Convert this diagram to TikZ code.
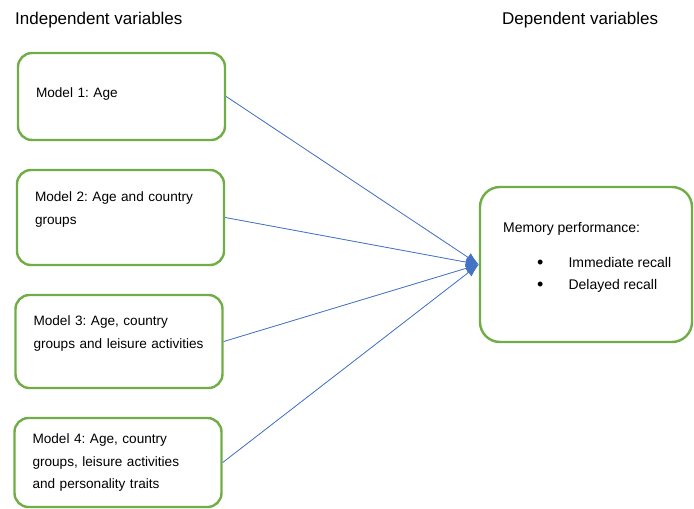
\documentclass[tikz,border=0pt]{standalone}
\usepackage{fontspec}
\setmainfont{Liberation Sans}
\frenchspacing
\usetikzlibrary{arrows.meta}
\definecolor{boxgreen}{RGB}{112,173,71}
\definecolor{linkblue}{RGB}{68,114,196}
\newcommand{\bigdot}{\raisebox{-1pt}{\fontsize{18}{18}\selectfont\textbullet}}
\tikzset{
  modelbox/.style = {
    draw=boxgreen, line width=2.4pt, rounded corners=14pt,
    align=left, text width=171pt, inner xsep=18pt, minimum width=207pt,
    font=\fontsize{13.6}{22.5}\selectfont
  },
  outbox/.style = {
    draw=boxgreen, line width=2.4pt, rounded corners=20pt,
    minimum width=212pt, minimum height=155pt
  },
  header/.style = {anchor=base west, inner sep=0pt, font=\fontsize{17}{20}\selectfont},
  link/.style = {->, draw=linkblue, fill=linkblue, line width=0.8pt}
}
\tikzset{>={Latex[length=13pt,width=10pt]}}

\begin{document}
\begin{tikzpicture}[x=1pt,y=-1pt]
  \useasboundingbox (0,0) rectangle (694,509);
  % headings
  \node[header] (indep) at (15,24)  {Independent variables};
  \node[header] (dep)   at (502,24) {Dependent variables};
  % models
  \node[modelbox, minimum height=87pt] (m1) at (121.5,96.5) {Model 1: Age\\[-14pt]\mbox{}};
  \node[modelbox, minimum height=95pt] (m2) at (120.5,217.5) {Model 2: Age and country\\groups\\[-4pt]\mbox{}};
  \node[modelbox, minimum height=93pt] (m3) at (119,341.5) {Model 3: Age, country\\groups and leisure activities\\[-4pt]\mbox{}};
  \node[modelbox, minimum height=89pt] (m4) at (118,462.5) {Model 4: Age, country\\groups, leisure activities\\and personality traits};
  % outcome
  \node[outbox] (mem) at (586,264.5) {};
  \node[anchor=north west, align=left, inner sep=0pt, font=\fontsize{14}{22}\selectfont]
    (memtext) at (503,222) {Memory performance:\\[13pt]
      \hspace*{34pt}\bigdot\hspace*{25pt}Immediate recall\\
      \hspace*{34pt}\bigdot\hspace*{25pt}Delayed recall};
  % links
  \foreach \m in {m1,m2,m3,m4}
    \draw[link] (\m.east) -- (mem.west);
\end{tikzpicture}
\end{document}
